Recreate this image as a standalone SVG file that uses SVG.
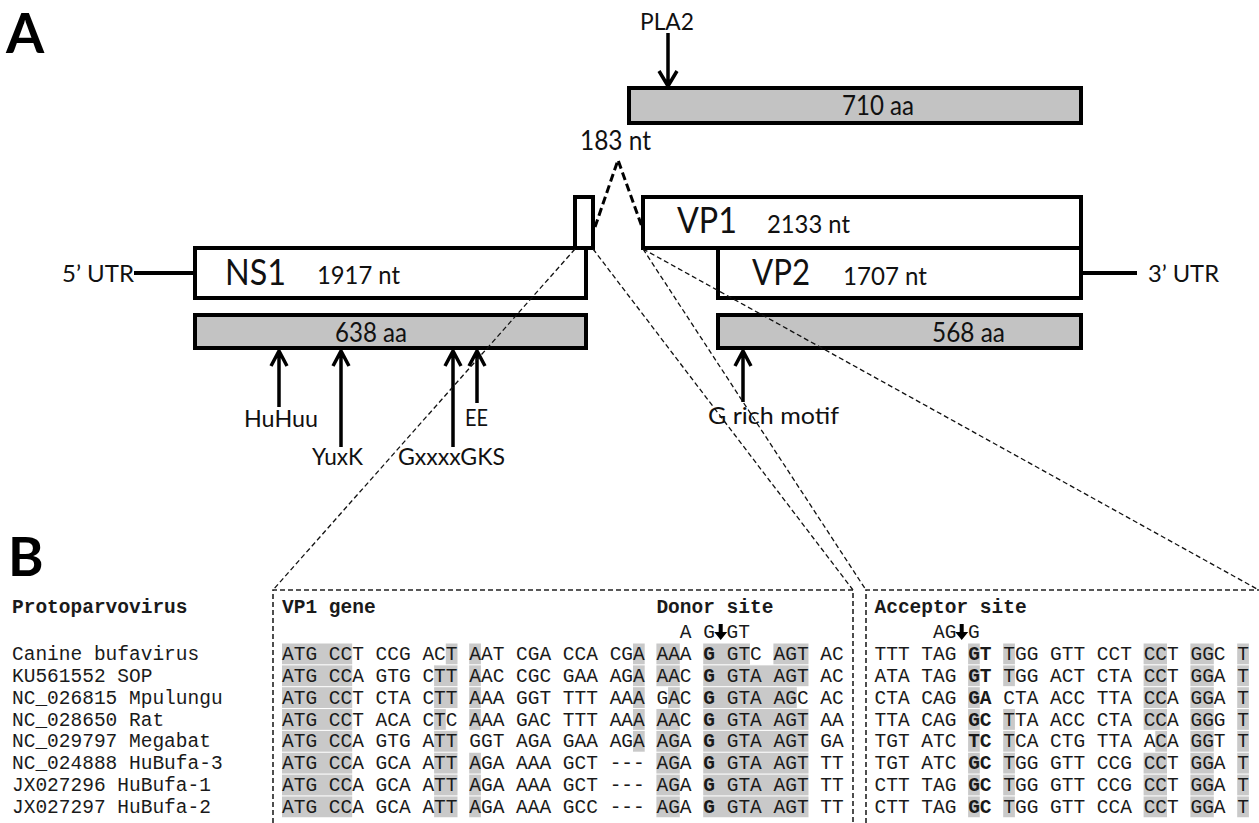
<svg xmlns="http://www.w3.org/2000/svg" width="1259" height="823" viewBox="0 0 1259 823">
<style>
.lbl{font-family:Lato,"Open Sans","Liberation Sans",sans-serif;fill:#111}
.big{font-family:Lato,"Liberation Sans",sans-serif;font-weight:bold;fill:#000}
.box{fill:#fff;stroke:#000;stroke-width:4}
.gbox{fill:#c3c3c3;stroke:#000;stroke-width:4}
.ln{stroke:#000;stroke-width:4;fill:none}
.arr{stroke:#000;stroke-width:3.5;fill:none}
.dsh{stroke:#000;stroke-width:3;stroke-dasharray:8 4;fill:none}
.con{stroke:#111;stroke-width:1.3;stroke-dasharray:5 3;fill:none}
.frame{stroke:#222;stroke-width:1.6;stroke-dasharray:5 3;fill:none}
.mono{font-family:"Liberation Mono","Courier New",monospace;font-size:19.5px;fill:#1a1a1a;white-space:pre}
.mb{font-weight:bold}
.sh{fill:#c9c9c9}
</style>

<g id="panel-labels">
<text class="big" x="6" y="53" font-size="55">A</text>
<text class="big" x="8" y="576" font-size="54">B</text>
</g>

<g id="vp-protein">
<rect class="gbox" x="629" y="88" width="452" height="35"/>
<text class="lbl" x="842" y="115" font-size="26" textLength="72" lengthAdjust="spacingAndGlyphs">710 aa</text>
</g>
<g id="pla2">
<text class="lbl" x="640" y="30" font-size="23" textLength="54" lengthAdjust="spacingAndGlyphs">PLA2</text>
</g>
<g id="intron">
<text class="lbl" x="580" y="150" font-size="26" textLength="71" lengthAdjust="spacingAndGlyphs">183 nt</text>
</g>
<g id="small-exon">
<rect class="box" x="575" y="197" width="18" height="51"/>
</g>
<g id="vp1">
<rect class="box" x="643" y="197" width="438" height="51"/>
<text class="lbl" x="677" y="233" font-size="36" textLength="60" lengthAdjust="spacingAndGlyphs">VP1</text>
<text class="lbl" x="767" y="233" font-size="25" textLength="83" lengthAdjust="spacingAndGlyphs">2133 nt</text>
</g>
<g id="ns1">
<rect class="box" x="195" y="248" width="391" height="50"/>
<text class="lbl" x="225" y="285" font-size="36" textLength="61" lengthAdjust="spacingAndGlyphs">NS1</text>
<text class="lbl" x="317" y="284" font-size="25" textLength="83" lengthAdjust="spacingAndGlyphs">1917 nt</text>
</g>
<g id="vp2">
<rect class="box" x="718" y="248" width="363" height="50"/>
<text class="lbl" x="752" y="285" font-size="36" textLength="58" lengthAdjust="spacingAndGlyphs">VP2</text>
<text class="lbl" x="843" y="285" font-size="25" textLength="84" lengthAdjust="spacingAndGlyphs">1707 nt</text>
</g>
<g id="utr5">
<text class="lbl" x="62" y="282" font-size="24" textLength="72" lengthAdjust="spacingAndGlyphs">5’ UTR</text>
</g>
<g id="utr3">
<text class="lbl" x="1148" y="282" font-size="24" textLength="71" lengthAdjust="spacingAndGlyphs">3’ UTR</text>
</g>
<g id="ns1-protein">
<rect class="gbox" x="195" y="315" width="391" height="33"/>
<text class="lbl" x="335" y="342" font-size="26" textLength="72" lengthAdjust="spacingAndGlyphs">638 aa</text>
</g>
<g id="vp2-protein">
<rect class="gbox" x="718" y="315" width="363" height="33"/>
<text class="lbl" x="932" y="342" font-size="26" textLength="73" lengthAdjust="spacingAndGlyphs">568 aa</text>
</g>
<g id="motifs">
<text class="lbl" x="244" y="427" font-size="24" textLength="74" lengthAdjust="spacingAndGlyphs">HuHuu</text>
<text class="lbl" x="465" y="426" font-size="24" textLength="23" lengthAdjust="spacingAndGlyphs">EE</text>
<text class="lbl" x="312" y="465" font-size="24" textLength="51" lengthAdjust="spacingAndGlyphs">YuxK</text>
<text class="lbl" x="398" y="465" font-size="24" textLength="107" lengthAdjust="spacingAndGlyphs">GxxxxGKS</text>
<text class="lbl" x="708" y="424" font-size="24" textLength="131" lengthAdjust="spacingAndGlyphs">G rich motif</text>
</g>

<g id="connectors">
<path class="ln" d="M134,273H195M1081,273H1137"/>
<path class="arr" d="M668,33V85M659,71L668,86L677,71"/>
<path class="arr" d="M279,407V352M271,366L279,351L287,366"/>
<path class="arr" d="M341,447V352M333,366L341,351L349,366"/>
<path class="arr" d="M453,447V352M445,366L453,351L461,366"/>
<path class="arr" d="M477,403V352M469,366L477,351L485,366"/>
<path class="arr" d="M743,402V352M735,366L743,351L751,366"/>
<path class="dsh" d="M595,227L618,160L642,227"/>
<path class="con" d="M575,249L273,590M593,249L853,590M643,249L866,590M643,249L1257,589"/>
</g>

<g id="alignment-frames">
<path class="frame" d="M273,823V590H853V823"/>
<path class="frame" d="M866,823V590H1259"/>
</g>

<g id="headers" class="mono">
<text class="mono mb" x="12" y="613">Protoparvovirus</text>
<text class="mono mb" x="282" y="613">VP1 gene</text>
<text class="mono mb" x="656.4" y="613">Donor site</text>
<text class="mono" x="679.8" y="638">A G GT</text>
<text class="mono mb" x="874.5" y="613">Acceptor site</text>
<text class="mono" x="933" y="638">AG G</text>
<path d="M718.7,624h4v8h4.5l-6.5,8l-6.5,-8h4.5z" fill="#000"/>
<path d="M959.7,624h4v8h4.5l-6.5,8l-6.5,-8h4.5z" fill="#000"/>
</g>

<g id="names">
<text class="mono" x="12" y="660">Canine bufavirus</text>
<text class="mono" x="12" y="681.85">KU561552 SOP</text>
<text class="mono" x="12" y="703.7">NC_026815 Mpulungu</text>
<text class="mono" x="12" y="725.55">NC_028650 Rat</text>
<text class="mono" x="12" y="747.4">NC_029797 Megabat</text>
<text class="mono" x="12" y="769.25">NC_024888 HuBufa-3</text>
<text class="mono" x="12" y="791.1">JX027296 HuBufa-1</text>
<text class="mono" x="12" y="812.95">JX027297 HuBufa-2</text>
</g>

<g id="shading">
<g transform="translate(0,0)">
<rect class="sh" x="282" y="643.5" width="70.2" height="20.8"/><rect class="sh" x="445.8" y="643.5" width="11.7" height="20.8"/><rect class="sh" x="469.2" y="643.5" width="11.7" height="20.8"/><rect class="sh" x="633" y="643.5" width="11.7" height="20.8"/><rect class="sh" x="656.4" y="643.5" width="23.4" height="20.8"/><rect class="sh" x="703.2" y="643.5" width="46.8" height="20.8"/><rect class="sh" x="773.4" y="643.5" width="35.1" height="20.8"/>
<rect class="sh" x="968.1" y="643.5" width="11.7" height="20.8"/><rect class="sh" x="1003.2" y="643.5" width="11.7" height="20.8"/><rect class="sh" x="1143.6" y="643.5" width="23.4" height="20.8"/><rect class="sh" x="1190.4" y="643.5" width="23.4" height="20.8"/><rect class="sh" x="1237.2" y="643.5" width="11.7" height="20.8"/>
</g>
<g transform="translate(0,21.85)">
<rect class="sh" x="282" y="643.5" width="70.2" height="20.8"/><rect class="sh" x="434.1" y="643.5" width="23.4" height="20.8"/><rect class="sh" x="469.2" y="643.5" width="11.7" height="20.8"/><rect class="sh" x="633" y="643.5" width="11.7" height="20.8"/><rect class="sh" x="656.4" y="643.5" width="23.4" height="20.8"/><rect class="sh" x="703.2" y="643.5" width="105.3" height="20.8"/>
<rect class="sh" x="968.1" y="643.5" width="11.7" height="20.8"/><rect class="sh" x="1003.2" y="643.5" width="11.7" height="20.8"/><rect class="sh" x="1143.6" y="643.5" width="23.4" height="20.8"/><rect class="sh" x="1190.4" y="643.5" width="23.4" height="20.8"/><rect class="sh" x="1237.2" y="643.5" width="11.7" height="20.8"/>
</g>
<g transform="translate(0,43.7)">
<rect class="sh" x="282" y="643.5" width="70.2" height="20.8"/><rect class="sh" x="434.1" y="643.5" width="23.4" height="20.8"/><rect class="sh" x="469.2" y="643.5" width="11.7" height="20.8"/><rect class="sh" x="633" y="643.5" width="11.7" height="20.8"/><rect class="sh" x="668.1" y="643.5" width="11.7" height="20.8"/><rect class="sh" x="703.2" y="643.5" width="93.6" height="20.8"/>
<rect class="sh" x="968.1" y="643.5" width="11.7" height="20.8"/><rect class="sh" x="1143.6" y="643.5" width="23.4" height="20.8"/><rect class="sh" x="1190.4" y="643.5" width="23.4" height="20.8"/><rect class="sh" x="1237.2" y="643.5" width="11.7" height="20.8"/>
</g>
<g transform="translate(0,65.55)">
<rect class="sh" x="282" y="643.5" width="70.2" height="20.8"/><rect class="sh" x="434.1" y="643.5" width="11.7" height="20.8"/><rect class="sh" x="469.2" y="643.5" width="11.7" height="20.8"/><rect class="sh" x="633" y="643.5" width="11.7" height="20.8"/><rect class="sh" x="656.4" y="643.5" width="23.4" height="20.8"/><rect class="sh" x="703.2" y="643.5" width="105.3" height="20.8"/>
<rect class="sh" x="968.1" y="643.5" width="11.7" height="20.8"/><rect class="sh" x="1003.2" y="643.5" width="11.7" height="20.8"/><rect class="sh" x="1143.6" y="643.5" width="23.4" height="20.8"/><rect class="sh" x="1190.4" y="643.5" width="23.4" height="20.8"/><rect class="sh" x="1237.2" y="643.5" width="11.7" height="20.8"/>
</g>
<g transform="translate(0,87.4)">
<rect class="sh" x="282" y="643.5" width="70.2" height="20.8"/><rect class="sh" x="434.1" y="643.5" width="23.4" height="20.8"/><rect class="sh" x="633" y="643.5" width="11.7" height="20.8"/><rect class="sh" x="656.4" y="643.5" width="23.4" height="20.8"/><rect class="sh" x="703.2" y="643.5" width="105.3" height="20.8"/>
<rect class="sh" x="968.1" y="643.5" width="11.7" height="20.8"/><rect class="sh" x="1003.2" y="643.5" width="11.7" height="20.8"/><rect class="sh" x="1155.3" y="643.5" width="11.7" height="20.8"/><rect class="sh" x="1190.4" y="643.5" width="23.4" height="20.8"/><rect class="sh" x="1237.2" y="643.5" width="11.7" height="20.8"/>
</g>
<g transform="translate(0,109.25)">
<rect class="sh" x="282" y="643.5" width="70.2" height="20.8"/><rect class="sh" x="434.1" y="643.5" width="23.4" height="20.8"/><rect class="sh" x="469.2" y="643.5" width="11.7" height="20.8"/><rect class="sh" x="656.4" y="643.5" width="23.4" height="20.8"/><rect class="sh" x="703.2" y="643.5" width="105.3" height="20.8"/>
<rect class="sh" x="968.1" y="643.5" width="11.7" height="20.8"/><rect class="sh" x="1003.2" y="643.5" width="11.7" height="20.8"/><rect class="sh" x="1143.6" y="643.5" width="23.4" height="20.8"/><rect class="sh" x="1190.4" y="643.5" width="23.4" height="20.8"/><rect class="sh" x="1237.2" y="643.5" width="11.7" height="20.8"/>
</g>
<g transform="translate(0,131.1)">
<rect class="sh" x="282" y="643.5" width="70.2" height="20.8"/><rect class="sh" x="434.1" y="643.5" width="23.4" height="20.8"/><rect class="sh" x="469.2" y="643.5" width="11.7" height="20.8"/><rect class="sh" x="656.4" y="643.5" width="23.4" height="20.8"/><rect class="sh" x="703.2" y="643.5" width="105.3" height="20.8"/>
<rect class="sh" x="968.1" y="643.5" width="11.7" height="20.8"/><rect class="sh" x="1003.2" y="643.5" width="11.7" height="20.8"/><rect class="sh" x="1143.6" y="643.5" width="23.4" height="20.8"/><rect class="sh" x="1190.4" y="643.5" width="23.4" height="20.8"/><rect class="sh" x="1237.2" y="643.5" width="11.7" height="20.8"/>
</g>
<g transform="translate(0,152.95)">
<rect class="sh" x="282" y="643.5" width="70.2" height="20.8"/><rect class="sh" x="434.1" y="643.5" width="23.4" height="20.8"/><rect class="sh" x="469.2" y="643.5" width="11.7" height="20.8"/><rect class="sh" x="656.4" y="643.5" width="23.4" height="20.8"/><rect class="sh" x="703.2" y="643.5" width="105.3" height="20.8"/>
<rect class="sh" x="968.1" y="643.5" width="11.7" height="20.8"/><rect class="sh" x="1003.2" y="643.5" width="11.7" height="20.8"/><rect class="sh" x="1143.6" y="643.5" width="23.4" height="20.8"/><rect class="sh" x="1190.4" y="643.5" width="23.4" height="20.8"/><rect class="sh" x="1237.2" y="643.5" width="11.7" height="20.8"/>
</g>
</g>

<g id="donor-seqs">
<text class="mono" x="282" y="660">ATG CCT CCG ACT AAT CGA CCA CGA AAA <tspan class="mb">G</tspan> GTC AGT AC</text>
<text class="mono" x="282" y="681.85">ATG CCA GTG CTT AAC CGC GAA AGA AAC <tspan class="mb">G</tspan> GTA AGT AC</text>
<text class="mono" x="282" y="703.7">ATG CCT CTA CTT AAA GGT TTT AAA GAC <tspan class="mb">G</tspan> GTA AGC AC</text>
<text class="mono" x="282" y="725.55">ATG CCT ACA CTC AAA GAC TTT AAA AAC <tspan class="mb">G</tspan> GTA AGT AA</text>
<text class="mono" x="282" y="747.4">ATG CCA GTG ATT GGT AGA GAA AGA AGA <tspan class="mb">G</tspan> GTA AGT GA</text>
<text class="mono" x="282" y="769.25">ATG CCA GCA ATT AGA AAA GCT --- AGA <tspan class="mb">G</tspan> GTA AGT TT</text>
<text class="mono" x="282" y="791.1">ATG CCA GCA ATT AGA AAA GCT --- AGA <tspan class="mb">G</tspan> GTA AGT TT</text>
<text class="mono" x="282" y="812.95">ATG CCA GCA ATT AGA AAA GCC --- AGA <tspan class="mb">G</tspan> GTA AGT TT</text>
</g>

<g id="acceptor-seqs">
<text class="mono" x="874.5" y="660">TTT TAG <tspan class="mb">GT</tspan> TGG GTT CCT CCT GGC T</text>
<text class="mono" x="874.5" y="681.85">ATA TAG <tspan class="mb">GT</tspan> TGG ACT CTA CCT GGA T</text>
<text class="mono" x="874.5" y="703.7">CTA CAG <tspan class="mb">GA</tspan> CTA ACC TTA CCA GGA T</text>
<text class="mono" x="874.5" y="725.55">TTA CAG <tspan class="mb">GC</tspan> TTA ACC CTA CCA GGG T</text>
<text class="mono" x="874.5" y="747.4">TGT ATC <tspan class="mb">TC</tspan> TCA CTG TTA ACA GGT T</text>
<text class="mono" x="874.5" y="769.25">TGT ATC <tspan class="mb">GC</tspan> TGG GTT CCG CCT GGA T</text>
<text class="mono" x="874.5" y="791.1">CTT TAG <tspan class="mb">GC</tspan> TGG GTT CCG CCT GGA T</text>
<text class="mono" x="874.5" y="812.95">CTT TAG <tspan class="mb">GC</tspan> TGG GTT CCA CCT GGA T</text>
</g>
</svg>
